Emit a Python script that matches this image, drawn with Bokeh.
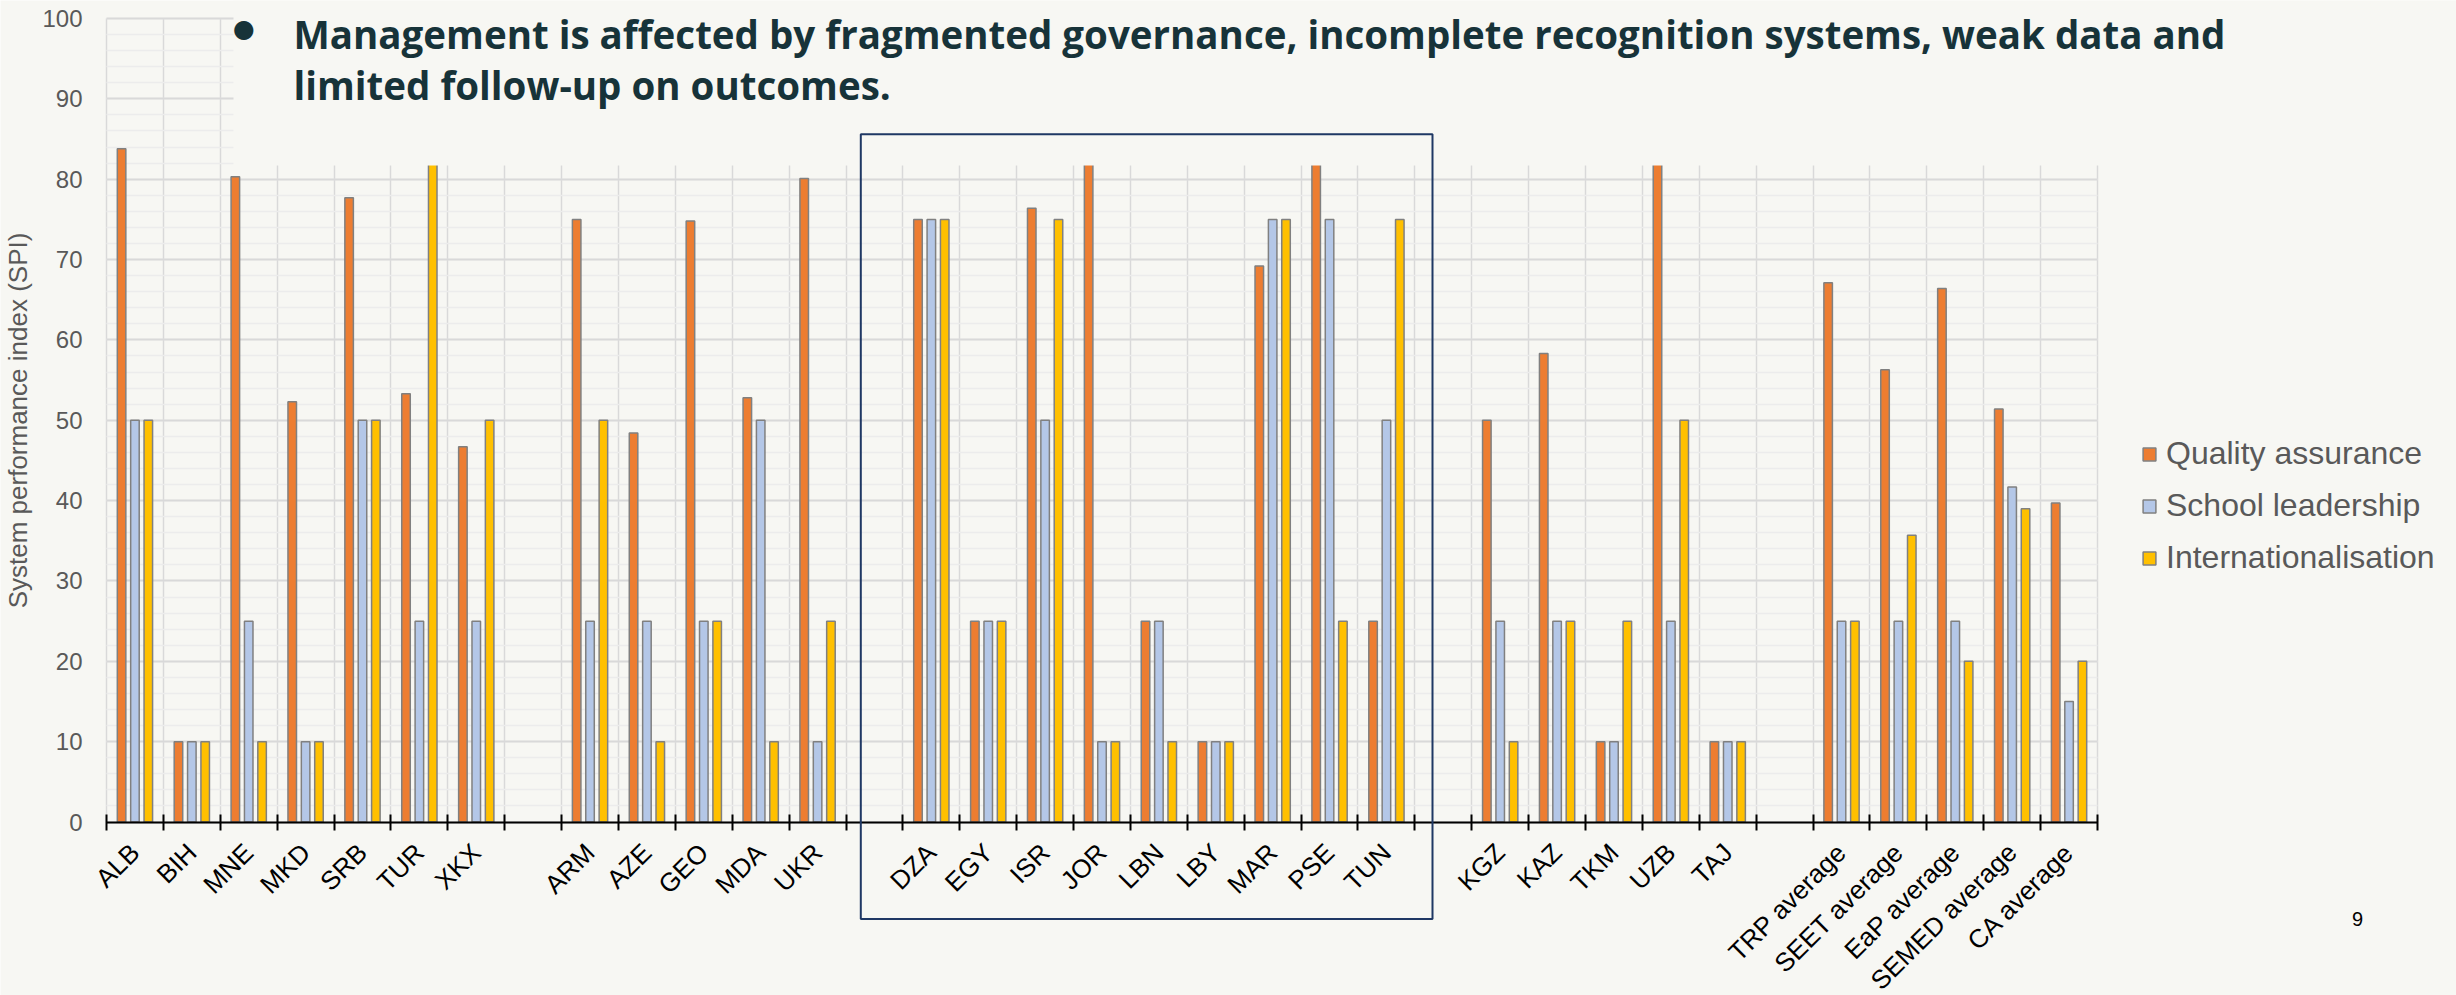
import math
from bokeh.plotting import figure
from bokeh.models import (Range1d, FixedTicker, BoxAnnotation, Label, Legend, LegendItem,
                          ColumnDataSource)
from bokeh.embed import file_html
from bokeh.resources import INLINE

# ---------------- data ----------------
categories = ["ALB", "BIH", "MNE", "MKD", "SRB", "TUR", "XKX", "",
              "ARM", "AZE", "GEO", "MDA", "UKR", "",
              "DZA", "EGY", "ISR", "JOR", "LBN", "LBY", "MAR", "PSE", "TUN", "",
              "KGZ", "KAZ", "TKM", "UZB", "TAJ", "",
              "TRP average", "SEET average", "EaP average", "SEMED average", "CA average"]

quality_assurance = [83.8, 10, 80.3, 52.3, 77.7, 53.3, 46.7, None,
                     75.0, 48.4, 74.8, 52.8, 80.1, None,
                     75, 25, 76.4, 87.5, 25, 10, 69.2, 87.5, 25, None,
                     50, 58.3, 10, 87.5, 10, None,
                     67.1, 56.3, 66.4, 51.4, 39.7]
school_leadership = [50, 10, 25, 10, 50, 25, 25, None,
                     25, 25, 25, 50, 10, None,
                     75, 25, 50, 10, 25, 10, 75, 75, 50, None,
                     25, 25, 10, 25, 10, None,
                     25, 25, 25, 41.7, 15]
internationalisation = [50, 10, 10, 10, 50, 87.5, 50, None,
                        50, 10, 25, 10, 25, None,
                        75, 25, 75, 10, 10, 10, 75, 25, 75, None,
                        10, 25, 25, 50, 10, None,
                        25, 35.7, 20, 39.0, 20]

series_names = ["Quality assurance", "School leadership", "Internationalisation"]
series_values = [quality_assurance, school_leadership, internationalisation]
series_colors = ["#ED7D31", "#B4C7E7", "#FFC000"]

y_ticks = list(range(0, 101, 10))
y_minor = list(range(0, 101, 2))

title_line1 = "Management is affected by fragmented governance, incomplete recognition systems, weak data and"
title_line2 = "limited follow-up on outcomes."
page_number = "9"

# ---------------- geometry (canvas pixels) ----------------
W, H = 2456, 995
CH_LEFT, CH_RIGHT = 106.0, 2097.0     # x = 0 and x = n
CH_TOP, CH_BOTTOM = 18.0, 821.5       # y = 100 and y = 0
n = len(categories)
sx = (CH_RIGHT - CH_LEFT) / n
sy = (CH_BOTTOM - CH_TOP) / 100.0
def dx(px):
    return (px - CH_LEFT) / sx
def dy(py):
    return (CH_BOTTOM - py) / sy

BG = "#f7f7f3"
GRID = "#d9d9d9"
MINOR = "#ececec"
TEXT_DARK = "#173339"

p = figure(width=W, height=H, output_backend="svg", toolbar_location=None,
           x_range=Range1d(dx(0), dx(W)), y_range=Range1d(dy(H), dy(0)),
           min_border=0)
p.background_fill_color = BG
p.border_fill_color = BG
p.outline_line_color = None

offsets = [-0.235, 0.0, 0.235]
renderers = []
for name, vals, col, off in zip(series_names, series_values, series_colors, offsets):
    xs = [i + 0.5 + off for i, v in enumerate(vals) if v is not None]
    tops = [v for v in vals if v is not None]
    src = ColumnDataSource(dict(x=xs, top=tops))
    r = p.vbar(x="x", top="top", bottom=0, width=0.15, source=src,
               fill_color=col, line_color="#808080", line_width=1.5)
    renderers.append(r)

# x axis: labels at centres, tick marks at category boundaries (minor ticks)
centres = [i + 0.5 for i in range(n)]
bounds = list(range(n + 1))
xticker = FixedTicker(ticks=centres, minor_ticks=bounds)
p.xaxis.ticker = xticker
p.xaxis.fixed_location = 0
p.xaxis.bounds = (0, n)
p.xaxis.major_label_overrides = {c: lab for c, lab in zip(centres, categories)}
p.xaxis.major_label_orientation = math.pi / 4
p.xaxis.major_tick_line_color = None
p.xaxis.major_tick_in = 0
p.xaxis.major_tick_out = 0
p.xaxis.minor_tick_in = 8
p.xaxis.minor_tick_out = 8
p.xaxis.minor_tick_line_color = "black"
p.xaxis.minor_tick_line_width = 2
p.xaxis.axis_line_color = "black"
p.xaxis.axis_line_width = 2
p.xaxis.major_label_text_font = "Liberation Sans"
p.xaxis.major_label_text_font_size = "26px"
p.xaxis.major_label_text_color = "black"
p.xaxis.major_label_standoff = 18

p.xgrid.ticker = xticker
p.xgrid.grid_line_color = None
p.xgrid.minor_grid_line_color = GRID
p.xgrid.minor_grid_line_width = 1.5
p.xgrid.cross_bounds = (0, 100)

# y axis
yticker = FixedTicker(ticks=y_ticks, minor_ticks=y_minor)
p.yaxis.ticker = yticker
p.yaxis.fixed_location = 0
p.yaxis.bounds = (0, 100)
p.yaxis.axis_line_color = None
p.yaxis.major_tick_line_color = None
p.yaxis.minor_tick_line_color = None
p.yaxis.major_tick_in = 0
p.yaxis.major_tick_out = 0
p.yaxis.major_label_text_font = "Liberation Sans"
p.yaxis.major_label_text_font_size = "24px"
p.yaxis.major_label_text_color = "#595959"
p.yaxis.major_label_standoff = 20
p.yaxis.axis_label = "System performance index (SPI)"
p.yaxis.axis_label_text_font = "Liberation Sans"
p.yaxis.axis_label_text_font_size = "26px"
p.yaxis.axis_label_text_font_style = "normal"
p.yaxis.axis_label_text_color = "#595959"
p.yaxis.axis_label_standoff = 6

p.ygrid.ticker = yticker
p.ygrid.grid_line_color = GRID
p.ygrid.grid_line_width = 2
p.ygrid.minor_grid_line_color = MINOR
p.ygrid.minor_grid_line_width = 1.5
p.ygrid.cross_bounds = (0, n)

# slide text box that covers the top of the chart
p.add_layout(BoxAnnotation(left=dx(233), bottom=dy(165), fill_color=BG, fill_alpha=1.0,
                           line_color=None))

p.add_layout(Label(x=dx(243.5), y=dy(28), text="\u25CF", text_font="DejaVu Sans",
                   text_font_size="25px", text_color=TEXT_DARK, text_baseline="middle",
                   text_align="center"))
p.add_layout(Label(x=dx(293), y=dy(33.5), text=title_line1, text_font="Open Sans",
                   text_font_style="bold", text_font_size="38.5px", text_color=TEXT_DARK,
                   text_baseline="middle"))
p.add_layout(Label(x=dx(293), y=dy(84.5), text=title_line2, text_font="Open Sans",
                   text_font_style="bold", text_font_size="38.5px", text_color=TEXT_DARK,
                   text_baseline="middle"))

# highlight box around SEMED group
p.add_layout(BoxAnnotation(left=dx(860.3), right=dx(1432), top=dy(133.8), bottom=dy(918.5),
                           fill_alpha=0, line_color="#1f3864", line_alpha=1.0, line_width=2))

p.add_layout(Label(x=dx(2357), y=dy(918), text=page_number, text_font="Liberation Sans",
                   text_font_size="20px", text_color="black", text_baseline="middle",
                   text_align="center"))

legend = Legend(items=[LegendItem(label=nm, renderers=[r]) for nm, r in zip(series_names, renderers)],
                location=(2141, 419), orientation="vertical",
                glyph_width=16, glyph_height=16, label_text_font="Liberation Sans",
                label_text_font_size="32px", label_text_color="#595959",
                spacing=15, padding=0, margin=0, border_line_color=None,
                background_fill_alpha=0, label_standoff=9)
p.add_layout(legend)

open("out.html", "w").write(file_html(p, INLINE))
